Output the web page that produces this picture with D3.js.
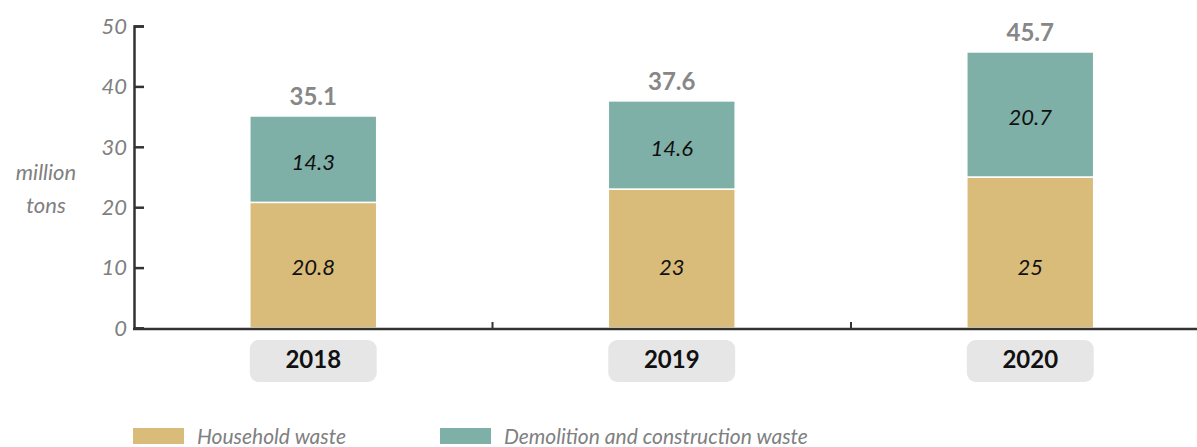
<!DOCTYPE html>
<html>
<head>
<meta charset="utf-8">
<title>Waste</title>
<script src="https://d3js.org/d3.v7.min.js"></script>
<style>
  body { margin: 0; background: #fff; }
  text { font-family: Lato, "Open Sans", sans-serif; }
</style>
</head>
<body>
<svg id="chart" width="1197" height="447"></svg>
<script>
// data
var years = ["2018", "2019", "2020"];
var household = [20.8, 23, 25];
var demolition = [14.3, 14.6, 20.7];
var totals = [35.1, 37.6, 45.7];
var seriesNames = ["Household waste", "Demolition and construction waste"];
var yTicks = [0, 10, 20, 30, 40, 50];

var colors = ["#d9bc7a", "#7fb0a8"];

var svg = d3.select("#chart");

var x = d3.scaleBand()
    .domain(years)
    .range([134, 1209.5])
    .paddingInner(0.646)
    .paddingOuter(0.323);

var y = d3.scaleLinear()
    .domain([0, 50])
    .range([328, 26]);

// stack
var rows = years.map(function(yr, i) {
    return { year: yr, household: household[i], demolition: demolition[i] };
});
var stack = d3.stack().keys(["household", "demolition"]);
var layers = stack(rows);

svg.selectAll("g.layer")
    .data(layers)
    .enter().append("g")
    .attr("class", "layer")
    .attr("fill", function(d, i) { return colors[i]; })
  .selectAll("rect")
    .data(function(d) { return d; })
    .enter().append("rect")
    .attr("x", function(d) { return x(d.data.year); })
    .attr("width", x.bandwidth())
    .attr("y", function(d) { return y(d[1]); })
    .attr("height", function(d) { return y(d[0]) - y(d[1]); })
    .attr("stroke", "#fff")
    .attr("stroke-width", 1.5);

// segment labels (household ones sit at the 10 line, the others mid segment)
layers.forEach(function(layer, li) {
    svg.selectAll(null)
        .data(layer)
        .enter().append("text")
        .attr("x", function(d) { return x(d.data.year) + x.bandwidth() / 2; })
        .attr("y", function(d) { return li == 0 ? y(10) : (y(d[0]) + y(d[1])) / 2 + 3; })
        .attr("dy", "0.35em")
        .attr("text-anchor", "middle")
        .style("font-style", "italic")
        .style("font-size", "22px")
        .attr("fill", "#111")
        .text(function(d) { return d.data[layer.key]; });
});

// totals
svg.selectAll("text.total")
    .data(years)
    .enter().append("text")
    .attr("class", "total")
    .attr("x", function(d) { return x(d) + x.bandwidth() / 2; })
    .attr("y", function(d, i) { return y(totals[i]) - 11; })
    .attr("text-anchor", "middle")
    .style("font-weight", "bold")
    .style("font-size", "24px")
    .attr("fill", "#878787")
    .text(function(d, i) { return totals[i]; });

// y axis
var yAxis = svg.append("g")
    .attr("transform", "translate(134,0)")
    .call(d3.axisRight(y).tickValues(yTicks).tickSize(10).tickFormat(""));
yAxis.select(".domain").attr("stroke", "#333").attr("stroke-width", 2.5);
yAxis.selectAll(".tick line").attr("stroke", "#333").attr("stroke-width", 2.5);

svg.selectAll("text.ytick")
    .data(yTicks)
    .enter().append("text")
    .attr("class", "ytick")
    .attr("x", 127)
    .attr("y", function(d) { return y(d); })
    .attr("dy", "0.35em")
    .attr("text-anchor", "end")
    .style("font-style", "italic")
    .style("font-size", "22px")
    .attr("fill", "#808080")
    .text(function(d) { return d; });

// x axis line with category dividers
svg.append("line")
    .attr("x1", 133).attr("x2", 1197)
    .attr("y1", 329).attr("y2", 329)
    .attr("stroke", "#333").attr("stroke-width", 2.5);

svg.selectAll("line.div")
    .data(years.slice(1))
    .enter().append("line")
    .attr("class", "div")
    .attr("x1", function(d) { return x(d) - x.step() * x.paddingInner() / 2; })
    .attr("x2", function(d) { return x(d) - x.step() * x.paddingInner() / 2; })
    .attr("y1", 322).attr("y2", 329)
    .attr("stroke", "#333").attr("stroke-width", 2);

// year boxes
var yearG = svg.selectAll("g.year")
    .data(years)
    .enter().append("g")
    .attr("class", "year");
yearG.append("rect")
    .attr("x", function(d) { return x(d); })
    .attr("y", 340)
    .attr("width", x.bandwidth())
    .attr("height", 42)
    .attr("rx", 9)
    .attr("fill", "#e6e6e6");
yearG.append("text")
    .attr("x", function(d) { return x(d) + x.bandwidth() / 2; })
    .attr("y", 359)
    .attr("dy", "0.36em")
    .attr("text-anchor", "middle")
    .style("font-weight", "bold")
    .style("font-size", "24px")
    .attr("fill", "#111")
    .text(function(d) { return d; });

// y label
svg.append("text")
    .attr("x", 46).attr("y", 180)
    .attr("text-anchor", "middle")
    .style("font-style", "italic")
    .style("font-size", "22px")
    .attr("fill", "#808080")
    .text("million");
svg.append("text")
    .attr("x", 46).attr("y", 213)
    .attr("text-anchor", "middle")
    .style("font-style", "italic")
    .style("font-size", "22px")
    .attr("fill", "#808080")
    .text("tons");

// legend
var legendX = [133, 440];
var legend = svg.selectAll("g.legend")
    .data(seriesNames)
    .enter().append("g")
    .attr("class", "legend")
    .attr("transform", function(d, i) { return "translate(" + legendX[i] + ",428)"; });
legend.append("rect")
    .attr("width", 51).attr("height", 16)
    .attr("fill", function(d, i) { return colors[i]; });
legend.append("text")
    .attr("x", 64).attr("y", 16)
    .style("font-style", "italic")
    .style("font-size", "21px")
    .attr("fill", "#808080")
    .text(function(d) { return d; });
</script>
</body>
</html>
